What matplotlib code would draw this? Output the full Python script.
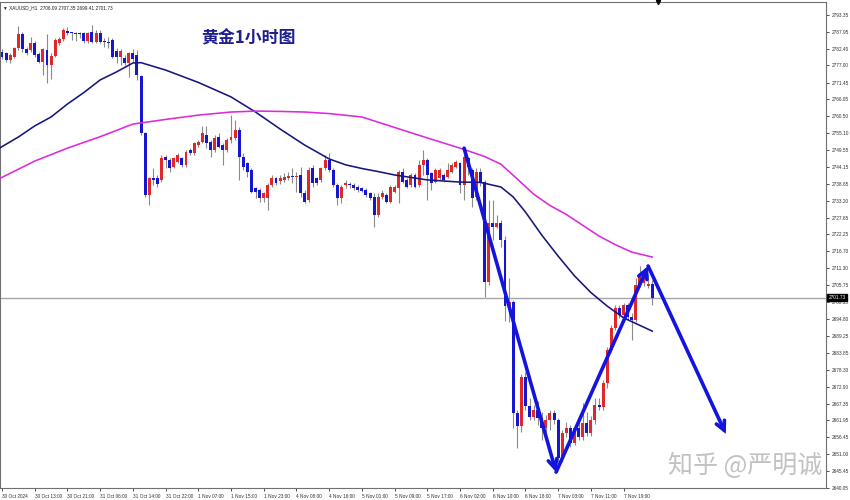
import matplotlib
matplotlib.use("Agg")
import matplotlib.pyplot as plt
from matplotlib.transforms import blended_transform_factory

# ---------------- data ----------------
opens = [2781.5, 2780.9, 2778.8, 2779.8, 2782.6, 2787.2, 2782.2, 2782.0, 2784.4, 2780.7,
         2778.2, 2782.0, 2777.1, 2780.1, 2784.2, 2785.5, 2788.3, 2787.6, 2787.4, 2787.4,
         2787.6, 2785.0, 2787.9, 2784.7, 2787.4, 2784.7, 2784.6, 2785.2, 2781.8, 2779.6,
         2779.3, 2777.7, 2780.9, 2780.4, 2773.6, 2755.0, 2735.0, 2740.4, 2740.4, 2739.9,
         2747.4, 2746.4, 2744.2, 2745.8, 2746.9, 2744.7, 2749.6, 2748.5, 2751.2, 2752.3,
         2754.5, 2752.3, 2749.6, 2753.9, 2751.2, 2749.6, 2752.8, 2753.4, 2756.1, 2747.4,
         2745.3, 2743.1, 2737.2, 2736.6, 2733.9, 2733.9, 2738.3, 2740.4, 2739.5, 2739.9,
         2740.4, 2741.2, 2740.9, 2741.5, 2735.6, 2733.4, 2743.7, 2740.4, 2739.9, 2743.7,
         2746.4, 2743.1, 2738.3, 2733.9, 2738.3, 2738.3, 2738.3, 2737.5, 2737.2, 2736.6,
         2735.6, 2734.5, 2728.5, 2734.3, 2735.0, 2732.8, 2736.1, 2737.2, 2742.6, 2739.9,
         2738.3, 2741.5, 2738.3, 2744.7, 2746.4, 2742.0, 2739.3, 2740.4, 2741.5, 2740.9,
         2742.6, 2744.2, 2745.3, 2738.3, 2746.9, 2743.1, 2734.5, 2742.5, 2739.3, 2706.9,
         2725.8, 2724.7, 2725.8, 2720.4, 2699.0, 2700.3, 2664.4, 2660.1, 2676.0, 2666.6,
         2663.2, 2665.3, 2662.7, 2659.5, 2662.1, 2664.4, 2662.1, 2649.8, 2657.9, 2659.5,
         2654.6, 2659.5, 2656.6, 2661.1, 2657.9, 2662.1, 2667.0, 2666.3, 2674.1, 2684.8,
         2691.9, 2698.4, 2696.1, 2699.4, 2695.5, 2694.5, 2705.8, 2706.5, 2705.5, 2706.09]
highs = [2782.2, 2781.5, 2780.9, 2783.1, 2789.8, 2787.9, 2783.1, 2786.3, 2785.0, 2781.5,
         2782.6, 2787.2, 2780.9, 2785.8, 2786.3, 2789.0, 2789.6, 2787.9, 2787.9, 2787.9,
         2787.9, 2787.9, 2790.1, 2788.5, 2788.5, 2785.8, 2786.3, 2785.8, 2782.6, 2782.2,
         2780.4, 2781.5, 2782.2, 2782.0, 2773.9, 2755.5, 2740.9, 2743.7, 2741.5, 2748.0,
         2748.0, 2746.9, 2747.4, 2748.5, 2747.4, 2749.6, 2750.1, 2752.3, 2752.8, 2757.4,
         2757.4, 2752.8, 2754.5, 2755.0, 2751.8, 2753.4, 2760.9, 2759.3, 2757.2, 2748.5,
         2745.8, 2743.7, 2737.7, 2737.2, 2736.1, 2738.8, 2741.5, 2740.9, 2741.5, 2742.1,
         2742.5, 2743.7, 2742.6, 2744.2, 2736.6, 2744.2, 2744.7, 2740.9, 2744.2, 2748.0,
         2748.5, 2743.7, 2738.8, 2738.3, 2739.9, 2739.3, 2738.8, 2738.3, 2737.7, 2737.2,
         2736.1, 2735.6, 2735.6, 2736.6, 2735.6, 2738.3, 2738.3, 2743.1, 2743.7, 2740.4,
         2742.0, 2742.0, 2746.4, 2749.6, 2746.9, 2742.6, 2743.7, 2743.7, 2742.0, 2745.3,
         2745.3, 2746.4, 2745.8, 2749.6, 2747.4, 2743.7, 2743.7, 2743.8, 2739.9, 2733.4,
         2733.4, 2728.5, 2726.9, 2721.7, 2708.1, 2701.0, 2665.3, 2677.0, 2677.6, 2669.2,
         2667.0, 2668.3, 2664.7, 2663.7, 2665.3, 2665.3, 2662.7, 2658.9, 2661.4, 2660.5,
         2660.5, 2663.4, 2667.6, 2664.7, 2663.4, 2669.2, 2669.2, 2675.1, 2685.8, 2692.9,
         2699.4, 2699.4, 2700.0, 2700.0, 2696.8, 2708.1, 2712.0, 2710.5, 2709.5, 2707.35]
lows = [2779.0, 2778.2, 2777.7, 2779.3, 2782.0, 2781.5, 2780.4, 2781.5, 2779.8, 2777.7,
        2773.9, 2771.2, 2772.5, 2779.6, 2783.6, 2785.0, 2786.9, 2785.2, 2785.0, 2785.8,
        2784.4, 2784.4, 2784.2, 2784.2, 2784.2, 2783.1, 2782.6, 2779.3, 2777.7, 2777.1,
        2777.1, 2773.4, 2778.2, 2772.3, 2754.5, 2734.5, 2731.8, 2738.3, 2737.7, 2739.3,
        2743.7, 2742.6, 2743.7, 2745.3, 2744.2, 2744.2, 2748.0, 2748.0, 2750.7, 2751.8,
        2750.1, 2747.4, 2749.0, 2750.1, 2744.7, 2749.0, 2751.8, 2752.8, 2739.9, 2743.1,
        2740.9, 2735.6, 2733.9, 2732.8, 2732.8, 2730.2, 2737.7, 2738.3, 2738.6, 2739.2,
        2739.9, 2738.8, 2736.1, 2734.5, 2732.3, 2732.8, 2737.7, 2738.3, 2739.3, 2743.1,
        2742.6, 2737.7, 2731.8, 2732.3, 2737.2, 2737.2, 2736.6, 2736.1, 2736.0, 2734.5,
        2733.4, 2724.7, 2728.0, 2733.7, 2732.3, 2732.3, 2735.6, 2732.3, 2738.8, 2737.2,
        2737.7, 2737.2, 2737.7, 2741.5, 2733.4, 2736.6, 2738.8, 2739.9, 2739.3, 2740.4,
        2742.0, 2743.7, 2735.6, 2733.4, 2741.5, 2731.2, 2733.4, 2737.9, 2702.1, 2705.8,
        2720.4, 2724.3, 2718.3, 2694.2, 2693.9, 2659.5, 2653.0, 2658.2, 2665.3, 2662.1,
        2662.1, 2660.5, 2655.6, 2658.2, 2658.9, 2660.8, 2648.5, 2648.5, 2656.6, 2653.3,
        2654.0, 2655.6, 2655.6, 2656.9, 2656.9, 2660.8, 2665.3, 2665.3, 2672.5, 2684.1,
        2691.3, 2695.2, 2695.2, 2694.5, 2688.0, 2694.0, 2705.3, 2705.5, 2704.8, 2699.41]
closes = [2779.8, 2778.8, 2780.4, 2782.6, 2787.2, 2782.2, 2781.1, 2784.4, 2780.4, 2778.2,
          2782.2, 2777.1, 2780.1, 2785.2, 2785.5, 2788.5, 2787.4, 2787.4, 2787.3, 2787.2,
          2785.0, 2787.6, 2784.7, 2787.4, 2784.7, 2784.6, 2784.4, 2779.8, 2779.6, 2781.8,
          2777.7, 2780.9, 2779.0, 2773.9, 2755.0, 2735.0, 2740.4, 2739.9, 2738.6, 2746.9,
          2746.4, 2743.7, 2746.9, 2748.0, 2744.7, 2749.0, 2748.5, 2751.8, 2752.3, 2755.0,
          2751.8, 2749.6, 2753.4, 2750.7, 2749.6, 2752.8, 2753.9, 2756.1, 2747.4, 2744.2,
          2742.6, 2736.1, 2736.1, 2733.9, 2735.6, 2738.3, 2740.4, 2738.8, 2740.5, 2740.9,
          2741.2, 2740.9, 2741.2, 2735.6, 2732.8, 2743.1, 2738.8, 2738.8, 2743.7, 2746.4,
          2743.1, 2738.3, 2733.9, 2737.7, 2738.8, 2738.2, 2737.2, 2736.6, 2736.4, 2735.0,
          2733.9, 2728.5, 2734.5, 2735.6, 2732.8, 2737.7, 2737.7, 2742.6, 2739.3, 2737.7,
          2741.5, 2737.7, 2744.7, 2746.4, 2741.5, 2738.8, 2743.1, 2743.1, 2739.9, 2743.1,
          2744.7, 2745.8, 2738.3, 2747.4, 2744.2, 2733.9, 2742.6, 2739.3, 2706.9, 2725.8,
          2724.7, 2725.8, 2720.4, 2699.0, 2700.3, 2664.4, 2660.1, 2676.0, 2666.6, 2663.2,
          2665.3, 2662.7, 2659.5, 2662.1, 2664.4, 2662.1, 2649.8, 2657.9, 2659.5, 2654.6,
          2659.5, 2656.6, 2661.1, 2657.9, 2662.1, 2667.0, 2666.3, 2674.1, 2684.8, 2691.9,
          2698.4, 2696.1, 2699.4, 2695.5, 2694.5, 2705.8, 2709.5, 2708.0, 2706.09, 2701.73]

ma_fast_bars = [-0.5, 4, 8, 12, 16, 20, 24, 28, 32, 34, 36, 40, 48, 56, 62, 68, 74, 80, 84,
                88, 92, 96, 104, 112, 117, 122, 125, 128, 132, 136, 140, 144, 148, 152, 159]
ma_fast_vals = [2750.3, 2753.8, 2757.4, 2760.3, 2764.5, 2768.2, 2772.3, 2774.9, 2777.8,
                2777.9, 2777.1, 2775.5, 2771.5, 2766.8, 2761.9, 2756.4, 2751.2, 2746.7,
                2744.8, 2743.6, 2742.6, 2741.5, 2739.9, 2739.2, 2739.1, 2737.6, 2734.4,
                2729.5, 2722.0, 2715.2, 2708.8, 2703.4, 2699.0, 2695.2, 2690.9]
ma_slow_bars = [-0.5, 8, 16, 24, 32, 40, 48, 56, 62, 68, 74, 80, 88, 96, 104, 112, 118,
                122, 126, 130, 134, 138, 142, 146, 150, 154, 159]
ma_slow_vals = [2740.4, 2746.0, 2750.2, 2753.9, 2758.0, 2759.5, 2760.9, 2761.9, 2762.2,
                2762.1, 2761.9, 2761.4, 2760.3, 2756.9, 2753.5, 2750.2, 2747.5, 2745.0,
                2740.2, 2735.3, 2731.6, 2728.7, 2725.2, 2721.7, 2718.9, 2716.5, 2714.9]

# hand-drawn trend arrows (bar index, price)
arrow_bars = [113, 135.5, 158, 177]
arrow_prices = [2750.2, 2645.2, 2712.0, 2657.6]

time_tick_bars = list(range(0, 153, 8))
time_labels = ["30 Oct 2024", "30 Oct 13:00", "30 Oct 21:00", "31 Oct 06:00", "31 Oct 14:00",
               "31 Oct 22:00", "1 Nov 07:00", "1 Nov 15:00", "1 Nov 23:00", "4 Nov 08:00",
               "4 Nov 16:00", "5 Nov 01:00", "5 Nov 09:00", "5 Nov 17:00", "6 Nov 02:00",
               "6 Nov 10:00", "6 Nov 18:00", "7 Nov 03:00", "7 Nov 11:00", "7 Nov 19:00"]
price_ticks = [2793.35, 2787.95, 2782.40, 2777.00, 2771.45, 2766.05, 2760.50, 2755.10,
               2749.55, 2744.15, 2738.65, 2733.20, 2727.65, 2722.25, 2716.70, 2711.30,
               2705.75, 2700.35, 2694.80, 2689.25, 2683.85, 2678.30, 2672.90, 2667.35,
               2661.95, 2656.45, 2651.00, 2645.45, 2640.05]
last_price = 2701.73
header = "XAUUSD_H1  2706.09 2707.35 2699.41 2701.73"

# ---------------- drawing ----------------
UP = "#e02828"
DOWN = "#1616d2"
WICK = "#8a8a8a"
SMALL = ["Liberation Sans", "DejaVu Sans"]

fig = plt.figure(figsize=(8.5, 5), dpi=100)
fig.patch.set_facecolor("white")
ax = fig.add_axes([0.0, 12 / 500, 826 / 850, 486 / 500])
ax.set_facecolor("white")

n = len(opens)
xs = list(range(n))
ax.vlines(xs, lows, highs, color=WICK, lw=0.8, zorder=2)
bottoms = [min(o, c) for o, c in zip(opens, closes)]
heights = [max(abs(c - o), 0.35) for o, c in zip(opens, closes)]
colors = [UP if c >= o else DOWN for o, c in zip(opens, closes)]
ax.bar(xs, heights, bottom=bottoms, width=0.72, color=colors, linewidth=0, zorder=3)

ax.plot(ma_fast_bars, ma_fast_vals, color="#16167c", lw=1.15, zorder=4)
ax.plot(ma_slow_bars, ma_slow_vals, color="#dc2adc", lw=1.15, zorder=4)

ax.axhline(last_price, color="#a6a6a6", lw=1.0, zorder=1)

for i in range(len(arrow_bars) - 1):
    ax.annotate("", xy=(arrow_bars[i + 1], arrow_prices[i + 1]),
                xytext=(arrow_bars[i], arrow_prices[i]),
                arrowprops=dict(arrowstyle="->", color="#1414e0", lw=2.6,
                                mutation_scale=16, shrinkA=0, shrinkB=0,
                                capstyle="round", joinstyle="miter"),
                zorder=6)

ax.set_xlim(-0.49, 201.5)
ax.set_ylim(2640.05, 2797.56)

ax.yaxis.tick_right()
ax.set_yticks(price_ticks)
ax.set_yticklabels([f"{v:.2f}" for v in price_ticks])
ax.set_xticks(time_tick_bars)
ax.set_xticklabels(time_labels)
ax.tick_params(axis="y", length=2.5, width=0.6, pad=1.5, labelsize=3.4,
               colors="#303030", direction="out")
ax.tick_params(axis="x", length=2.5, width=0.6, pad=1.5, labelsize=3.4,
               colors="#303030", direction="out")
for lbl in ax.get_xticklabels() + ax.get_yticklabels():
    lbl.set_family(SMALL)
for lbl in ax.get_xticklabels():
    lbl.set_ha("left")

for s in ax.spines.values():
    s.set_color("#707070")
    s.set_linewidth(0.8)

# current price tag on the price scale
tr = blended_transform_factory(ax.transAxes, ax.transData)
ax.text(1.003, last_price, f"{last_price:.2f}", transform=tr, ha="left", va="center",
        fontsize=3.4, color="white", family=SMALL,
        bbox=dict(boxstyle="square,pad=0.25", fc="black", ec="black"), clip_on=False, zorder=10)

# chart shift marker at the top
ax.plot([0.797], [1.0], marker="v", color="black", markersize=3,
        transform=ax.transAxes, clip_on=False, zorder=10)

# header & title & watermark
ax.text(0.004, 0.987, "\u25bc " + header, transform=ax.transAxes, ha="left", va="center",
        fontsize=3.4, color="#202020", family=SMALL)
fig.text(201 / 850, 1 - 38 / 500, "黄金1小时图", ha="left", va="center", fontsize=12.2,
         fontweight="bold", color="#1e1e8e", family=["Noto Sans CJK SC", "DejaVu Sans"])
fig.text(668 / 850, 1 - 466 / 500, "知乎 @严明诚", ha="left", va="center", fontsize=18,
         color="#bcbcbc", alpha=0.9, family=["Noto Sans CJK SC", "DejaVu Sans"], zorder=20)

fig.savefig("out.png", dpi=100, facecolor="white")
